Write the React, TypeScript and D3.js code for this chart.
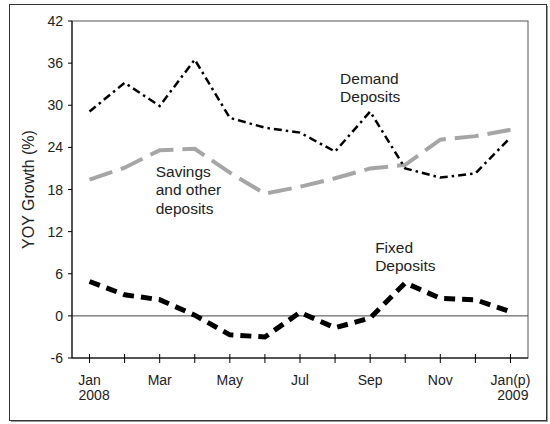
import React from 'react';
import * as d3 from 'd3';

// months on the x axis (Jan 2008 .. Jan 2009 provisional)
const months = ['Jan', 'Feb', 'Mar', 'Apr', 'May', 'Jun', 'Jul', 'Aug', 'Sep', 'Oct', 'Nov', 'Dec', 'Jan(p)'];
const monthLabels = ['Jan', '', 'Mar', '', 'May', '', 'Jul', '', 'Sep', '', 'Nov', '', 'Jan(p)'];
const yearLabels = ['2008', '2009'];
const yTicks = [-6, 0, 6, 12, 18, 24, 30, 36, 42];

// YOY growth (%)
const demandDeposits = [29.1, 33.2, 29.9, 36.5, 28.2, 26.8, 26.1, 23.4, 29.1, 21.0, 19.7, 20.3, 25.4];
const savingsDeposits = [19.4, 21.1, 23.6, 23.8, 20.4, 17.4, 18.4, 19.6, 21.0, 21.5, 25.1, 25.6, 26.5];
const fixedDeposits = [4.9, 3.0, 2.3, 0.1, -2.7, -3.0, 0.5, -1.7, -0.3, 4.7, 2.5, 2.3, 0.6];

const W = 550;
const H = 424;
const margin = { top: 21, right: 22, bottom: 66, left: 72 };

const App: React.FC = () => {
  const x = d3.scalePoint<string>()
    .domain(months)
    .range([margin.left, W - margin.right])
    .padding(0.5);

  const y = d3.scaleLinear()
    .domain([-6, 42])
    .range([H - margin.bottom, margin.top]);

  const line = d3.line<number>()
    .x((_, i) => x(months[i])!)
    .y(d => y(d));

  const font = 'Arial, "Liberation Sans", sans-serif';
  const bottom = H - margin.bottom;
  const janW = 19.5; // approx half-width helpers for year alignment

  return (
    <svg width={W} height={H} style={{ position: 'absolute', left: 0, top: 0 }} fontFamily={font}>
      <rect width={W} height={H} fill="#fff" />
      {/* frame with shadow */}
      <rect x={11} y={6} width={537} height={416} fill="#9a9a9a" />
      <rect x={9.5} y={4.5} width={537} height={416} fill="#fff" stroke="#333" strokeWidth={1} />

      {/* plot box */}
      <rect x={margin.left} y={margin.top} width={W - margin.left - margin.right} height={bottom - margin.top}
        fill="none" stroke="#555" strokeWidth={1} />
      <line x1={margin.left} x2={W - margin.right} y1={y(0)} y2={y(0)} stroke="#444" strokeWidth={1} />
      <line x1={margin.left} x2={margin.left} y1={margin.top} y2={bottom} stroke="#000" strokeWidth={1} />
      <line x1={margin.left} x2={W - margin.right} y1={bottom} y2={bottom} stroke="#000" strokeWidth={1} />

      {/* y ticks */}
      {yTicks.map(t => (
        <g key={t}>
          <line x1={margin.left - 4} x2={margin.left} y1={y(t)} y2={y(t)} stroke="#000" />
          <text x={margin.left - 9} y={y(t)} dy="0.36em" textAnchor="end" fontSize={14} fill="#222">{t}</text>
        </g>
      ))}

      {/* x ticks */}
      {months.map((m, i) => (
        <g key={m}>
          <line x1={x(m)!} x2={x(m)!} y1={bottom - 4} y2={bottom + 5} stroke="#000" />
          {monthLabels[i] && (
            <text x={x(m)!} y={bottom + 27} textAnchor="middle" fontSize={14} fill="#222">{monthLabels[i]}</text>
          )}
        </g>
      ))}
      <text x={x(months[0])! - 11} y={bottom + 42} textAnchor="start" fontSize={14} fill="#222">{yearLabels[0]}</text>
      <text x={x(months[12])! + 18} y={bottom + 42} textAnchor="end" fontSize={14} fill="#222">{yearLabels[1]}</text>

      {/* y axis title */}
      <text transform={`translate(34, ${(margin.top + bottom) / 2}) rotate(-90)`} textAnchor="middle"
        fontSize={16} fill="#222">YOY Growth (%)</text>

      {/* series */}
      <path d={line(savingsDeposits)!} fill="none" stroke="#a6a6a6" strokeWidth={4} strokeDasharray="24,9" />
      <path d={line(demandDeposits)!} fill="none" stroke="#000" strokeWidth={2.5} strokeDasharray="8,4,2.5,4" />
      <path d={line(fixedDeposits)!} fill="none" stroke="#000" strokeWidth={5} strokeDasharray="11,7" />

      {/* annotations */}
      <text x={x('Aug')! + 5} y={y(33)} fontSize={15.5} fill="#222">
        <tspan x={x('Aug')! + 5}>Demand</tspan>
        <tspan x={x('Aug')! + 5} dy={18}>Deposits</tspan>
      </text>
      <text x={x('Mar')! - 4} y={y(19.8)} fontSize={15.5} fill="#222">
        <tspan x={x('Mar')! - 4}>Savings</tspan>
        <tspan x={x('Mar')! - 4} dy={18.5}>and other</tspan>
        <tspan x={x('Mar')! - 4} dy={18.5}>deposits</tspan>
      </text>
      <text x={x('Sep')! + 5} y={y(9)} fontSize={15.5} fill="#222">
        <tspan x={x('Sep')! + 5}>Fixed</tspan>
        <tspan x={x('Sep')! + 5} dy={18}>Deposits</tspan>
      </text>
    </svg>
  );
};

export default App;
